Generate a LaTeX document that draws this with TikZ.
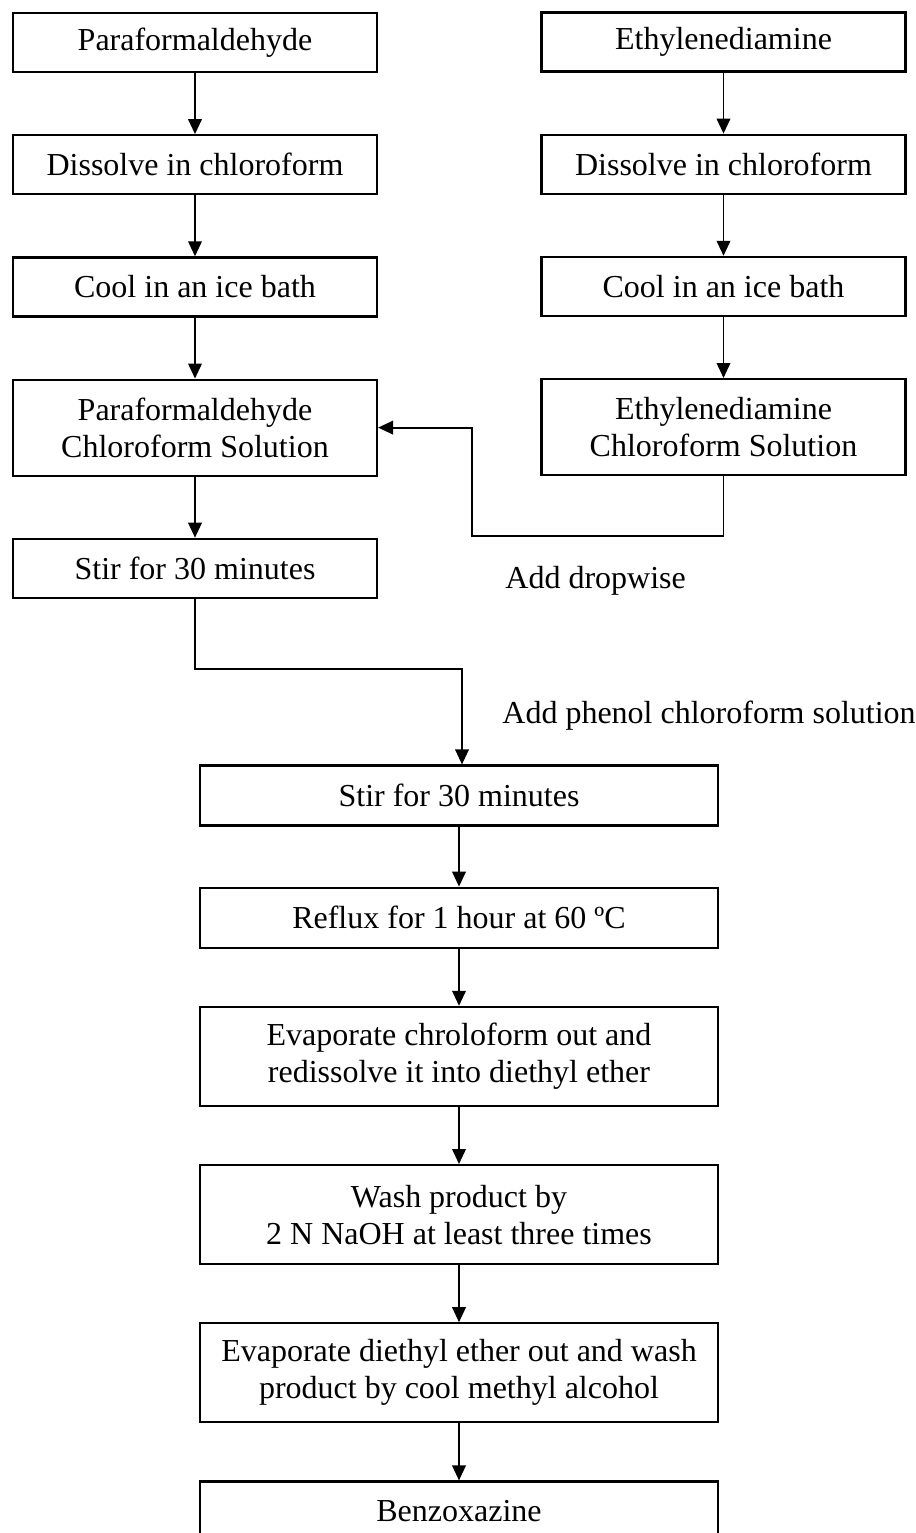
\documentclass[tikz,border=0pt]{standalone}
\usepackage{fontspec}
\setmainfont{Liberation Serif}
\usetikzlibrary{positioning,arrows.meta}
\newcommand{\boxWidth}[0]{182pt}
\newcommand{\wideWidth}[0]{259pt}
\newcommand{\stepGap}[0]{30.5pt}
\newcommand{\mainGap}[0]{28.5pt}

\begin{document}
\begin{tikzpicture}[x=0.5pt, y=-0.5pt]
  \tikzset{every node/.style={font=\fontsize{16}{18.5}\selectfont, align=center},
    stepBox/.style={draw, line width=1.1pt, minimum width=\boxWidth, minimum height=29.5pt, inner sep=0pt},
    twoLine/.style={minimum height=48pt},
    mainBox/.style={stepBox, minimum width=\wideWidth, minimum height=30pt},
    mainTwo/.style={mainBox, minimum height=49.5pt},
    flow/.style={line width=0.9pt, -{Triangle[length=7.5pt,width=6.8pt]}},
    note/.style={anchor=base west, inner sep=0pt}}
  \useasboundingbox (0,0) rectangle (916,1533);
  \node[stepBox] (para) at (195,42.5) {Paraformaldehyde};
  \node[stepBox, below=\stepGap of para] (paraDis) {Dissolve in chloroform};
  \node[stepBox, below=\stepGap of paraDis] (paraCool) {Cool in an ice bath};
  \node[stepBox, twoLine, below=\stepGap of paraCool] (paraSol) {Paraformaldehyde\\Chloroform Solution};
  \node[stepBox, below=\stepGap of paraSol] (paraStir) {Stir for 30 minutes};
  \node[stepBox] (ethy) at (723.5,42) {Ethylenediamine};
  \node[stepBox, below=\stepGap of ethy] (ethyDis) {Dissolve in chloroform};
  \node[stepBox, below=\stepGap of ethyDis] (ethyCool) {Cool in an ice bath};
  \node[stepBox, twoLine, below=\stepGap of ethyCool] (ethySol) {Ethylenediamine\\Chloroform Solution};
  \node[mainBox] (mixStir) at (459,795.5) {Stir for 30 minutes};
  \node[mainBox, below=30pt of mixStir] (reflux) {Reflux for 1 hour at 60 ºC};
  \node[mainTwo, below=\mainGap of reflux] (evapChl) {Evaporate chroloform out and\\redissolve it into diethyl ether};
  \node[mainTwo, below=\mainGap of evapChl] (wash) {Wash product by\\2 N NaOH at least three times};
  \node[mainTwo, below=\mainGap of wash] (evapEth) {Evaporate diethyl ether out and wash\\product by cool methyl alcohol};
  \node[mainBox, below=\mainGap of evapEth] (benz) {Benzoxazine};
  \node[note] (dropNote) at (505,588) {Add dropwise};
  \node[note] (phenolNote) at (502,723) {Add phenol chloroform solution};
  \coordinate (dropTurn) at (472,536);
  \coordinate (phenolTurn) at (462,669);
  \draw[flow] (para) -- (paraDis);
  \draw[flow] (paraDis) -- (paraCool);
  \draw[flow] (paraCool) -- (paraSol);
  \draw[flow] (paraSol) -- (paraStir);
  \draw[flow] (ethy) -- (ethyDis);
  \draw[flow] (ethyDis) -- (ethyCool);
  \draw[flow] (ethyCool) -- (ethySol);
  \draw[flow] (ethySol.south) |- (dropTurn) |- (paraSol.east);
  \draw[flow] (paraStir.south) |- (phenolTurn) -- (phenolTurn |- mixStir.north);
  \draw[flow] (mixStir) -- (reflux);
  \draw[flow] (reflux) -- (evapChl);
  \draw[flow] (evapChl) -- (wash);
  \draw[flow] (wash) -- (evapEth);
  \draw[flow] (evapEth) -- (benz);
\end{tikzpicture}
\end{document}
